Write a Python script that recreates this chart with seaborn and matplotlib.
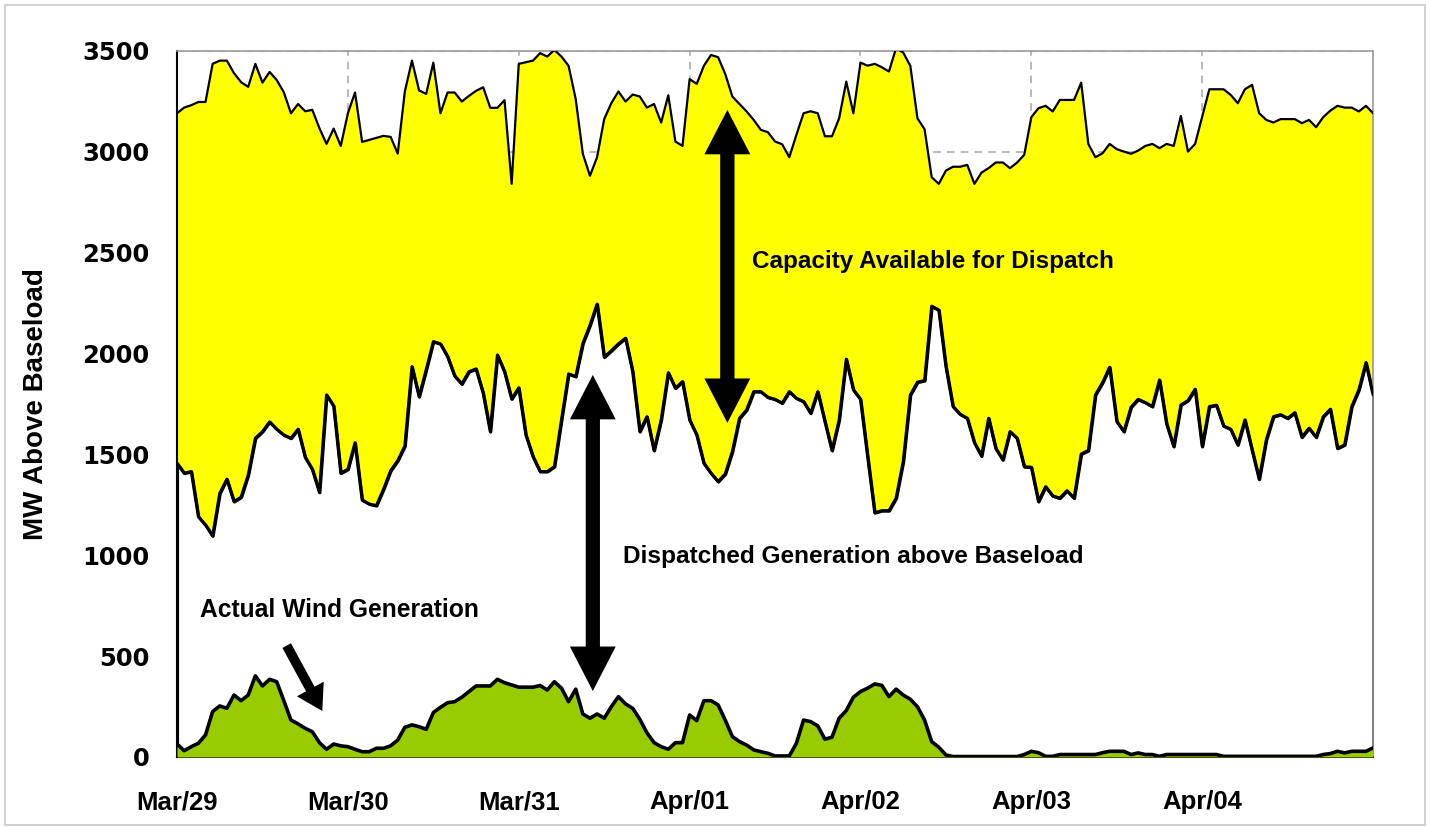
"""
plot.py -- dispatch capacity vs. dispatched generation vs. wind, Mar/29 - Apr/04
(hourly values, MW above baseload).
"""
import numpy as np
import pandas as pd
import matplotlib
matplotlib.use("Agg")
import matplotlib.pyplot as plt
import seaborn as sns
from matplotlib.patches import FancyArrowPatch, Rectangle

# hourly values, one list per day (last list has the closing hour)
cap_mar29 = [3191, 3219, 3231, 3247, 3247, 3436, 3452, 3452, 3390, 3345, 3322, 3436,
             3343, 3396, 3356, 3295, 3191, 3237, 3201, 3208, 3117, 3039, 3115, 3029]
cap_mar30 = [3191, 3294, 3049, 3059, 3069, 3079, 3074, 2991, 3299, 3452, 3304, 3287,
             3442, 3191, 3294, 3294, 3249, 3277, 3302, 3320, 3218, 3218, 3256, 2841]
cap_mar31 = [3436, 3444, 3452, 3489, 3472, 3505, 3472, 3426, 3261, 2990, 2881, 2973,
             3162, 3241, 3299, 3249, 3284, 3274, 3219, 3237, 3145, 3280, 3051, 3029]
cap_apr01 = [3360, 3337, 3426, 3480, 3469, 3386, 3274, 3237, 3200, 3158, 3109, 3097,
             3051, 3037, 2973, 3084, 3191, 3201, 3191, 3077, 3077, 3166, 3348, 3191]
cap_apr02 = [3442, 3427, 3436, 3419, 3398, 3514, 3492, 3426, 3166, 3112, 2874, 2841,
             2907, 2926, 2926, 2935, 2841, 2897, 2919, 2947, 2947, 2919, 2947, 2985]
cap_apr03 = [3172, 3216, 3228, 3200, 3257, 3257, 3257, 3343, 3039, 2973, 2993, 3039,
             3013, 3001, 2990, 3006, 3029, 3039, 3018, 3039, 3029, 3178, 3001, 3039]
cap_apr04 = [3175, 3310, 3310, 3310, 3282, 3241, 3310, 3332, 3191, 3158, 3145, 3162,
             3162, 3162, 3142, 3158, 3122, 3172, 3204, 3228, 3219, 3219, 3200, 3228, 3191]

dis_mar29 = [1456, 1407, 1415, 1191, 1150, 1096, 1307, 1377, 1266, 1288, 1398, 1580,
             1613, 1661, 1625, 1596, 1580, 1625, 1486, 1426, 1312, 1795, 1740, 1407]
dis_mar30 = [1426, 1558, 1274, 1254, 1246, 1327, 1419, 1469, 1542, 1935, 1786, 1920,
             2059, 2048, 1985, 1889, 1849, 1910, 1924, 1803, 1613, 1993, 1910, 1775]
dis_mar31 = [1830, 1596, 1489, 1415, 1415, 1439, 1671, 1899, 1886, 2050, 2140, 2245,
             1982, 2014, 2048, 2076, 1910, 1613, 1687, 1519, 1671, 1905, 1828, 1861]
dis_apr01 = [1671, 1596, 1456, 1407, 1365, 1403, 1514, 1679, 1720, 1811, 1811, 1783,
             1773, 1754, 1811, 1778, 1762, 1704, 1811, 1663, 1519, 1671, 1972, 1820]
dis_apr02 = [1773, 1489, 1211, 1221, 1221, 1283, 1464, 1795, 1858, 1866, 2235, 2215,
             1935, 1737, 1699, 1679, 1558, 1492, 1679, 1530, 1473, 1613, 1580, 1439]
dis_apr03 = [1436, 1266, 1340, 1294, 1283, 1320, 1283, 1502, 1519, 1795, 1856, 1932,
             1663, 1613, 1734, 1773, 1757, 1737, 1869, 1651, 1539, 1745, 1767, 1823]
dis_apr04 = [1539, 1737, 1744, 1641, 1625, 1547, 1671, 1522, 1377, 1572, 1687, 1697,
             1679, 1707, 1585, 1630, 1585, 1687, 1724, 1530, 1547, 1737, 1820, 1955, 1795]

wind_mar29 = [64, 31, 51, 68, 109, 225, 253, 241, 307, 279, 307, 402,
              352, 385, 373, 279, 183, 164, 142, 125, 71, 38, 64, 55]
wind_mar30 = [51, 38, 26, 26, 43, 43, 55, 84, 147, 159, 150, 137,
              220, 246, 269, 274, 296, 324, 352, 352, 352, 385, 368, 357]
wind_mar31 = [346, 346, 346, 354, 332, 373, 341, 274, 336, 213, 192, 213,
              192, 249, 299, 263, 241, 187, 120, 71, 51, 38, 71, 71]
wind_apr01 = [208, 180, 279, 279, 258, 183, 101, 76, 59, 35, 26, 18,
              5, 5, 5, 68, 183, 175, 154, 88, 98, 192, 230, 296]
wind_apr02 = [324, 341, 362, 355, 299, 336, 307, 286, 249, 183, 76, 48,
              10, 2, 2, 2, 2, 2, 2, 2, 2, 2, 2, 12]
wind_apr03 = [28, 21, 3, 3, 12, 12, 12, 12, 12, 12, 21, 28,
              28, 28, 12, 20, 12, 12, 3, 12, 12, 12, 12, 12]
wind_apr04 = [12, 12, 12, 3, 3, 3, 3, 3, 3, 3, 3, 3,
              3, 3, 3, 3, 3, 12, 17, 28, 20, 28, 28, 28, 45]

day_labels = ["Mar/29", "Mar/30", "Mar/31", "Apr/01", "Apr/02", "Apr/03", "Apr/04"]

YELLOW = "#FFFF00"
GREEN = "#99CC00"
SANS = ["Liberation Sans", "DejaVu Sans"]
Y_MAX = 3500


def build_frame() -> pd.DataFrame:
    capacity = cap_mar29 + cap_mar30 + cap_mar31 + cap_apr01 + cap_apr02 + cap_apr03 + cap_apr04
    dispatched = dis_mar29 + dis_mar30 + dis_mar31 + dis_apr01 + dis_apr02 + dis_apr03 + dis_apr04
    wind = wind_mar29 + wind_mar30 + wind_mar31 + wind_apr01 + wind_apr02 + wind_apr03 + wind_apr04
    return pd.DataFrame({"hour": np.arange(len(capacity)), "capacity": capacity,
                         "dispatched": dispatched, "wind": wind})


def double_arrow(ax, x, y_low, y_high):
    # two full-length "simple" arrows, one per head; each tail starts hidden inside
    # the opposite head so the shaft has no seam and no square end pokes out
    tuck = 30 / (ax.bbox.height / Y_MAX)  # 30 px back from the tip, in data units
    style = "simple,head_length=32,head_width=33,tail_width=10"
    for start, tip in ((y_low + tuck, y_high), (y_high - tuck, y_low)):
        ax.add_patch(FancyArrowPatch((x, start), (x, tip), arrowstyle=style, mutation_scale=1,
                                     color="black", lw=0, shrinkA=0, shrinkB=0, zorder=6))


def main():
    df = build_frame()
    n_hours = df["hour"].iloc[-1]

    sns.set_style("white")
    plt.rcParams["font.family"] = SANS
    plt.rcParams.update({"text.color": "black", "axes.labelcolor": "black",
                         "xtick.color": "black", "ytick.color": "black"})

    fig = plt.figure(figsize=(14.3, 8.27), dpi=100)
    ax = fig.add_axes([0.1238, 0.0847, 0.8364, 0.8537])

    ax.set_axisbelow(True)
    ax.grid(True, ls=(0, (5, 4)), color="#a6a6a6", lw=1.1)

    ax.fill_between(df["hour"], 0, df["capacity"], color=YELLOW, lw=0, zorder=1)
    ax.fill_between(df["hour"], 0, df["dispatched"], facecolor="white", edgecolor="black",
                    lw=2.2, zorder=2)
    ax.fill_between(df["hour"], 0, df["wind"], color=GREEN, lw=0, zorder=3)

    sns.lineplot(data=df, x="hour", y="capacity", color="black", lw=1.6, ax=ax, zorder=4)
    sns.lineplot(data=df, x="hour", y="dispatched", color="black", lw=2.2, ax=ax, zorder=4)
    sns.lineplot(data=df, x="hour", y="wind", color="black", lw=2.6, ax=ax, zorder=5)

    ax.set_xlim(0, n_hours)
    ax.set_ylim(0, Y_MAX)
    ax.set_xticks(np.arange(0, n_hours, 24))
    ax.set_xticklabels(day_labels, fontsize=18.5, fontweight="bold", family=SANS)
    ax.set_yticks(np.arange(0, Y_MAX + 1, 500))
    ax.set_yticklabels([str(v) for v in range(0, Y_MAX + 1, 500)], fontsize=17.5,
                       fontweight="bold", family=["DejaVu Sans"])
    ax.tick_params(axis="x", direction="out", length=8, width=1.2, color="black", pad=16)
    ax.tick_params(axis="y", direction="out", length=8, width=1.2, color="black", pad=12)
    ax.set_xlabel("")
    ax.set_ylabel("MW Above Baseload", fontsize=20, fontweight="bold", family=SANS,
                  labelpad=24)

    for side in ("top", "right"):
        ax.spines[side].set_color("#9a9a9a")
        ax.spines[side].set_linewidth(1.2)
    for side in ("left", "bottom"):
        ax.spines[side].set_color("black")
        ax.spines[side].set_linewidth(1.5)

    ax.text(80.8, 2454, "Capacity Available for Dispatch", fontsize=17.5, fontweight="bold",
            family=SANS, ha="left", va="center", zorder=7)
    ax.text(62.6, 992, "Dispatched Generation above Baseload", fontsize=17.6, fontweight="bold",
            family=SANS, ha="left", va="center", zorder=7)
    ax.text(3.2, 729, "Actual Wind Generation", fontsize=17.7, fontweight="bold",
            family=SANS, ha="left", va="center", zorder=7)

    double_arrow(ax, 77.3, 1656, 3208)
    double_arrow(ax, 58.4, 327, 1894)
    ax.add_patch(FancyArrowPatch((15.4, 552), (20.4, 228), mutation_scale=1,
                                 arrowstyle="simple,head_length=18,head_width=22,tail_width=7",
                                 color="black", lw=0, shrinkA=0, shrinkB=0, zorder=6))

    fig.add_artist(Rectangle((0.0035, 0.003), 0.9930, 0.9915, transform=fig.transFigure,
                             fill=False, edgecolor="#c8c8c8", lw=1.2))

    fig.savefig("out.png", dpi=100)
    plt.close(fig)


if __name__ == "__main__":
    main()
